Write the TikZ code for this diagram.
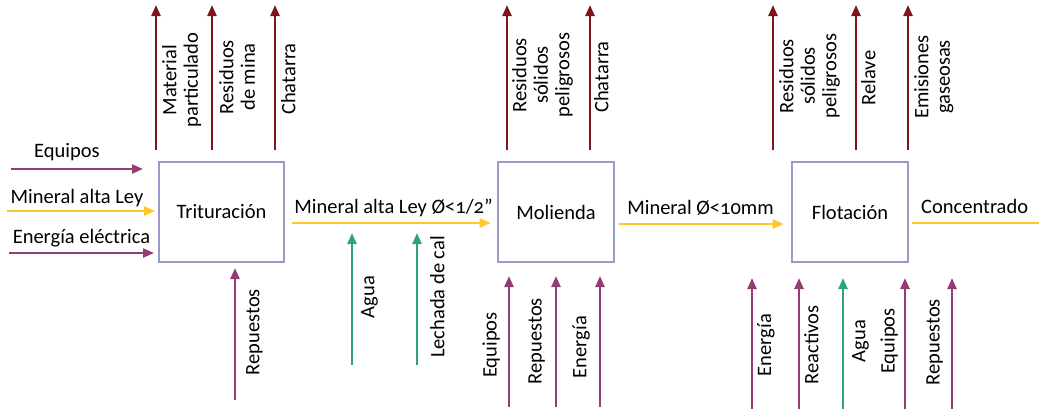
\documentclass[tikz,border=0pt]{standalone}
\usepackage{fontspec}
\setmainfont{Carlito}[Numbers=OldStyle]
\usetikzlibrary{arrows.meta}

\definecolor{boxc}{HTML}{9999CC}
\definecolor{wastec}{HTML}{7F1518}
\definecolor{supplyc}{HTML}{943C74}
\definecolor{orec}{HTML}{FFC72C}
\definecolor{waterc}{HTML}{2EA27A}

\begin{document}
\begin{tikzpicture}[x=1pt,y=-1pt,
  every node/.style={font=\fontsize{20.5}{21.5}\selectfont, inner sep=0pt, text=black},
  stage/.style={draw=boxc, line width=2.6pt, minimum height=100pt},
  tip/.style={-{Triangle[length=11pt,width=9pt]}, line width=2.3pt},
  waste/.style={tip, color=wastec},
  supply/.style={tip, color=supplyc},
  ore/.style={tip, color=orec},
  water/.style={tip, color=waterc},
  ortxt/.style={rotate=90, align=center},
  rlab/.style={ortxt, anchor=north},
  llab/.style={ortxt, anchor=south},
  hlab/.style={anchor=base, yshift=10pt}]

\useasboundingbox (0,0) rectangle (1039,413);

% process stages
\node[stage, minimum width=125pt] (tri) at (221.5,212) {Trituración};
\node[stage, minimum width=116pt] (mol) at (556,212) {Molienda};
\node[stage, minimum width=116pt] (flo) at (850,212) {Flotación};

% main ore line
\coordinate (eqA) at (11,169);   \coordinate (eqB) at (143,169);
\coordinate (orA) at (7,211);    \coordinate (orB) at (155,211);
\coordinate (enA) at (9,253);    \coordinate (enB) at (154,253);
\draw[supply] (eqA) -- (eqB) node[midway, hlab, yshift=2pt, xshift=-10pt] {Equipos};
\draw[ore] (orA) -- (orB) node[midway, hlab, yshift=-2pt, xshift=-4pt] {Mineral alta Ley};
\draw[supply] (enA) -- (enB) node[midway, hlab] {Energía eléctrica};

\draw[ore] ([xshift=7pt,yshift=-11pt]tri.east) -- ([xshift=-6pt,yshift=-11pt]mol.west)
  node[midway, hlab, xshift=2pt] {Mineral alta Ley Ø<1/2”};
\draw[ore] ([xshift=4pt,yshift=-12pt]mol.east) -- ([xshift=-7pt,yshift=-12pt]flo.west)
  node[midway, hlab, xshift=-1pt] {Mineral Ø<10mm};
\coordinate (conc) at (1039,223);
\draw[line width=2.3pt, color=orec] ([xshift=3pt,yshift=-11pt]flo.east) -- (conc)
  node[midway, hlab, xshift=-1pt] {Concentrado};

% outputs above the stages
\foreach \x/\n in {156/a,212/b,275/c,507/d,590/e,773/f,856/g,908/h} {
  \coordinate (wo\n) at (\x,150);
  \coordinate (wt\n) at (\x,5);
  \draw[waste] (wo\n) -- (wt\n);
}
\node[rlab] at (162,80) {Material\\particulado};
\node[rlab] at (219,77) {Residuos\\de mina};
\node[rlab] at (281,79) {Chatarra};
\node[rlab] at (512,75) {Residuos\\sólidos\\peligrosos};
\node[rlab] at (594,77) {Chatarra};
\node[rlab] at (779,76) {Residuos\\sólidos\\peligrosos};
\node[rlab] at (861,78) {Relave};
\node[rlab] at (914,77) {Emisiones\\gaseosas};

% supplies below the stages
\coordinate (r1a) at (235,400); \coordinate (r1b) at (235,268);
\draw[supply] (r1a) -- (r1b);
\node[rlab] at (246,332) {Repuestos};

\coordinate (w1a) at (352,365); \coordinate (w1b) at (352,233);
\coordinate (w2a) at (417,365); \coordinate (w2b) at (417,233);
\draw[water] (w1a) -- (w1b);
\draw[water] (w2a) -- (w2b);
\node[rlab] at (361,297) {Agua};
\node[rlab] at (430,297) {Lechada de cal};

\foreach \x/\n in {509/a,556/b,600/c} {
  \coordinate (ms\n) at (\x,407);
  \coordinate (mt\n) at (\x,276);
  \draw[supply] (ms\n) -- (mt\n);
}
\node[llab] at (500,345) {Equipos};
\node[llab] at (545,341) {Repuestos};
\node[llab] at (590,347) {Energía};

\foreach \x/\n/\s in {752/a/supply,799/b/supply,843/c/water,905/d/supply,952/e/supply} {
  \coordinate (fs\n) at (\x,409);
  \coordinate (ft\n) at (\x,278);
  \draw[\s] (fs\n) -- (ft\n);
}
\node[rlab] at (757,345) {Energía};
\node[rlab] at (804,345) {Reactivos};
\node[rlab] at (852,341) {Agua};
\node[llab] at (898,341) {Equipos};
\node[llab] at (943,342) {Repuestos};
\end{tikzpicture}
\end{document}
